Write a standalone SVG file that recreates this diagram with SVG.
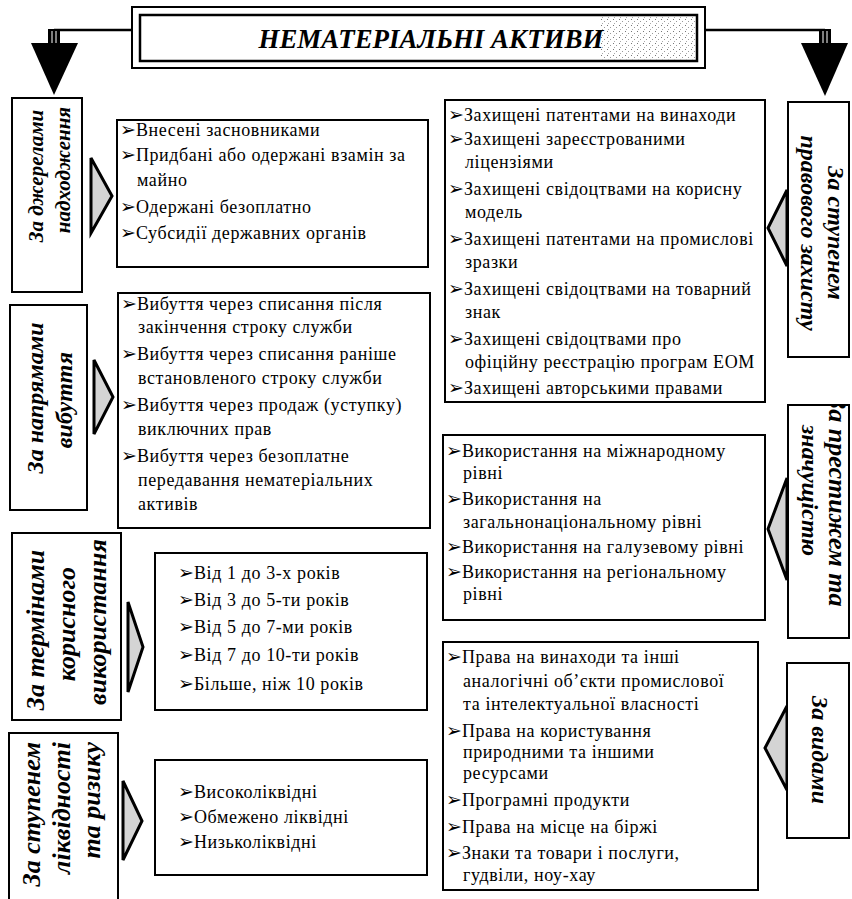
<svg xmlns="http://www.w3.org/2000/svg" width="852" height="899" viewBox="0 0 852 899">
<defs>
<style>
.box{fill:#fff;stroke:#000;stroke-width:2}
.lbl{font-family:"Liberation Serif","DejaVu Serif",serif;font-weight:bold;font-style:italic;font-size:24px;fill:#000}
.it{font-family:"Liberation Serif","DejaVu Serif",serif;font-size:18px;letter-spacing:0.6px;fill:#000}
.bul{font-family:"DejaVu Sans","Noto Sans",sans-serif;font-size:19px;letter-spacing:0px}
.tri{fill:#d4d4d4;stroke:#000;stroke-width:3;stroke-linejoin:miter}
.ln{fill:none;stroke:#000;stroke-width:2.5}
.big{fill:#000}
</style>
<pattern id="stip" width="6" height="6" patternUnits="userSpaceOnUse">
<rect x="1" y="1" width="1" height="1" fill="#777"/>
<rect x="4" y="3" width="1" height="1" fill="#999"/>
<rect x="2" y="5" width="1" height="1" fill="#aaa"/>
</pattern>
<clipPath id="clipR2"><rect x="789" y="406" width="60" height="231"/></clipPath>
</defs>
<rect width="852" height="899" fill="#fff"/>

<g id="connectors">
<path class="ln" d="M54 30 H132 M705 30 H825"/>
<rect x="48" y="29" width="12" height="15" class="big"/>
<path d="M52 31 V44 M56 31 V44" stroke="#fff" stroke-width="1"/>
<polygon class="big" points="31,43 78,43 54,95"/>
<rect x="819" y="29" width="12" height="15" class="big"/>
<path d="M823 31 V44 M827 31 V44" stroke="#fff" stroke-width="1"/>
<polygon class="big" points="801,43 848,43 825,96"/>
<polygon class="tri" points="91,158 91,233 112,196"/>
<polygon class="tri" points="94,360 94,434 113,397"/>
<polygon class="tri" points="128,602 128,692 143,647"/>
<polygon class="tri" points="123,781 123,860 142,821"/>
<polygon class="tri" points="787,190 787,266 768,228"/>
<polygon class="tri" points="787,478 787,580 768,529"/>
<polygon class="tri" points="787,706 787,790 765,748"/>
</g>

<g id="title">
<rect x="132" y="7" width="573" height="61" fill="#fff" stroke="#000" stroke-width="2"/>
<rect x="140" y="15" width="557" height="46" fill="#fff" stroke="#000" stroke-width="2.5"/>
<rect x="600" y="16" width="96" height="44" fill="url(#stip)"/>
<text x="431" y="48" text-anchor="middle" class="lbl" style="font-size:27px" textLength="345" lengthAdjust="spacingAndGlyphs">НЕМАТЕРІАЛЬНІ АКТИВИ</text>
</g>

<g id="label-sources">
<rect class="box" x="12" y="98" width="70" height="194"/>
<text class="lbl" x="36" y="176" text-anchor="middle" dominant-baseline="central" transform="rotate(-90 36 176)" style="font-size:21px">За джерелами</text>
<text class="lbl" x="63" y="170" text-anchor="middle" dominant-baseline="central" transform="rotate(-90 63 170)" style="font-size:21px">надходження</text>
</g>

<g id="items-sources">
<rect class="box" x="117" y="120" width="311" height="147"/>
<text class="it" x="120" y="136"><tspan class="bul">➢</tspan>Внесені засновниками</text>
<text class="it" x="120" y="161"><tspan class="bul">➢</tspan>Придбані або одержані взамін за</text>
<text class="it" x="137" y="186">майно</text>
<text class="it" x="120" y="213"><tspan class="bul">➢</tspan>Одержані безоплатно</text>
<text class="it" x="120" y="239"><tspan class="bul">➢</tspan>Субсидії державних органів</text>
</g>

<g id="label-disposal">
<rect class="box" x="10" y="305" width="77" height="205"/>
<text class="lbl" x="35" y="398" text-anchor="middle" dominant-baseline="central" transform="rotate(-90 35 398)">За напрямами</text>
<text class="lbl" x="64" y="400" text-anchor="middle" dominant-baseline="central" transform="rotate(-90 64 400)">вибуття</text>
</g>

<g id="items-disposal">
<rect class="box" x="118" y="293" width="312" height="235"/>
<text class="it" x="121" y="310"><tspan class="bul">➢</tspan>Вибуття через списання після</text>
<text class="it" x="138" y="333">закінчення строку служби</text>
<text class="it" x="121" y="360"><tspan class="bul">➢</tspan>Вибуття через списання раніше</text>
<text class="it" x="138" y="384">встановленого строку служби</text>
<text class="it" x="121" y="411"><tspan class="bul">➢</tspan>Вибуття через продаж (уступку)</text>
<text class="it" x="138" y="435">виключних прав</text>
<text class="it" x="121" y="462"><tspan class="bul">➢</tspan>Вибуття через безоплатне</text>
<text class="it" x="138" y="486">передавання нематеріальних</text>
<text class="it" x="138" y="510">активів</text>
</g>

<g id="label-terms">
<rect class="box" x="12" y="533" width="109" height="187"/>
<text class="lbl" x="35" y="630" text-anchor="middle" dominant-baseline="central" transform="rotate(-90 35 630)" style="font-size:26px">За термінами</text>
<text class="lbl" x="66" y="624" text-anchor="middle" dominant-baseline="central" transform="rotate(-90 66 624)" style="font-size:26px">корисного</text>
<text class="lbl" x="97" y="622" text-anchor="middle" dominant-baseline="central" transform="rotate(-90 97 622)" style="font-size:26px">використання</text>
</g>

<g id="items-terms">
<rect class="box" x="155" y="553" width="272" height="157"/>
<text class="it" x="178" y="579"><tspan class="bul">➢</tspan>Від 1 до 3-х років</text>
<text class="it" x="178" y="606"><tspan class="bul">➢</tspan>Від 3 до 5-ти років</text>
<text class="it" x="178" y="633"><tspan class="bul">➢</tspan>Від 5 до 7-ми років</text>
<text class="it" x="178" y="661"><tspan class="bul">➢</tspan>Від 7 до 10-ти років</text>
<text class="it" x="178" y="690"><tspan class="bul">➢</tspan>Більше, ніж 10 років</text>
</g>

<g id="label-liquidity">
<rect class="box" x="9" y="733" width="109" height="175"/>
<text class="lbl" x="31" y="742" text-anchor="end" dominant-baseline="central" transform="rotate(-90 31 742)" style="font-size:26px">За ступенем</text>
<text class="lbl" x="61" y="742" text-anchor="end" dominant-baseline="central" transform="rotate(-90 61 742)" style="font-size:26px">ліквідності</text>
<text class="lbl" x="91" y="742" text-anchor="end" dominant-baseline="central" transform="rotate(-90 91 742)" style="font-size:26px">та ризику</text>
</g>

<g id="items-liquidity">
<rect class="box" x="155" y="760" width="272" height="115"/>
<text class="it" x="178" y="798"><tspan class="bul">➢</tspan>Високоліквідні</text>
<text class="it" x="178" y="823"><tspan class="bul">➢</tspan>Обмежено ліквідні</text>
<text class="it" x="178" y="848"><tspan class="bul">➢</tspan>Низьколіквідні</text>
</g>

<g id="label-protection">
<rect class="box" x="788" y="102" width="61" height="255"/>
<text class="lbl" x="836" y="233" text-anchor="middle" dominant-baseline="central" transform="rotate(90 836 233)">За ступенем</text>
<text class="lbl" x="809" y="233" text-anchor="middle" dominant-baseline="central" transform="rotate(90 809 233)">правового захисту</text>
</g>

<g id="items-protection">
<rect class="box" x="445" y="100" width="320" height="302"/>
<text class="it" x="448" y="121"><tspan class="bul">➢</tspan>Захищені патентами на винаходи</text>
<text class="it" x="465" y="145" dx="-17"><tspan class="bul">➢</tspan>Захищені зареєстрованими</text>
<text class="it" x="465" y="168">ліцензіями</text>
<text class="it" x="448" y="195"><tspan class="bul">➢</tspan>Захищені свідоцтвами на корисну</text>
<text class="it" x="465" y="218">модель</text>
<text class="it" x="448" y="245"><tspan class="bul">➢</tspan>Захищені патентами на промислові</text>
<text class="it" x="465" y="268">зразки</text>
<text class="it" x="448" y="295"><tspan class="bul">➢</tspan>Захищені свідоцтвами на товарний</text>
<text class="it" x="465" y="318">знак</text>
<text class="it" x="448" y="345"><tspan class="bul">➢</tspan>Захищені свідоцтвами про</text>
<text class="it" x="465" y="368">офіційну реєстрацію програм ЕОМ</text>
<text class="it" x="448" y="394"><tspan class="bul">➢</tspan>Захищені авторськими правами</text>
</g>

<g id="label-prestige">
<rect class="box" x="788" y="405" width="61" height="233"/>
<g clip-path="url(#clipR2)">
<text class="lbl" x="837" y="396" text-anchor="start" dominant-baseline="central" transform="rotate(90 837 396)" style="font-size:26px">За престижем та</text>
<text class="lbl" x="810" y="425" text-anchor="start" dominant-baseline="central" transform="rotate(90 810 425)">значущістю</text>
</g>
</g>

<g id="items-prestige">
<rect class="box" x="443" y="435" width="322" height="185"/>
<text class="it" x="446" y="457"><tspan class="bul">➢</tspan>Використання на міжнародному</text>
<text class="it" x="463" y="479">рівні</text>
<text class="it" x="446" y="505"><tspan class="bul">➢</tspan>Використання на</text>
<text class="it" x="463" y="528">загальнонаціональному рівні</text>
<text class="it" x="446" y="553"><tspan class="bul">➢</tspan>Використання на галузевому рівні</text>
<text class="it" x="446" y="578"><tspan class="bul">➢</tspan>Використання на регіональному</text>
<text class="it" x="463" y="600">рівні</text>
</g>

<g id="label-types">
<rect class="box" x="787" y="663" width="62" height="175"/>
<text class="lbl" x="820" y="750" text-anchor="middle" dominant-baseline="central" transform="rotate(90 820 750)">За видами</text>
</g>

<g id="items-types">
<rect class="box" x="443" y="642" width="315" height="248"/>
<text class="it" x="446" y="663"><tspan class="bul">➢</tspan>Права на винаходи та інші</text>
<text class="it" x="463" y="687">аналогічні об’єкти промислової</text>
<text class="it" x="463" y="710">та інтелектуальної власності</text>
<text class="it" x="446" y="737"><tspan class="bul">➢</tspan>Права на користування</text>
<text class="it" x="463" y="758">природними та іншими</text>
<text class="it" x="463" y="779">ресурсами</text>
<text class="it" x="446" y="806"><tspan class="bul">➢</tspan>Програмні продукти</text>
<text class="it" x="446" y="833"><tspan class="bul">➢</tspan>Права на місце на біржі</text>
<text class="it" x="446" y="859"><tspan class="bul">➢</tspan>Знаки та товари і послуги,</text>
<text class="it" x="463" y="881">гудвіли, ноу-хау</text>
</g>
</svg>
